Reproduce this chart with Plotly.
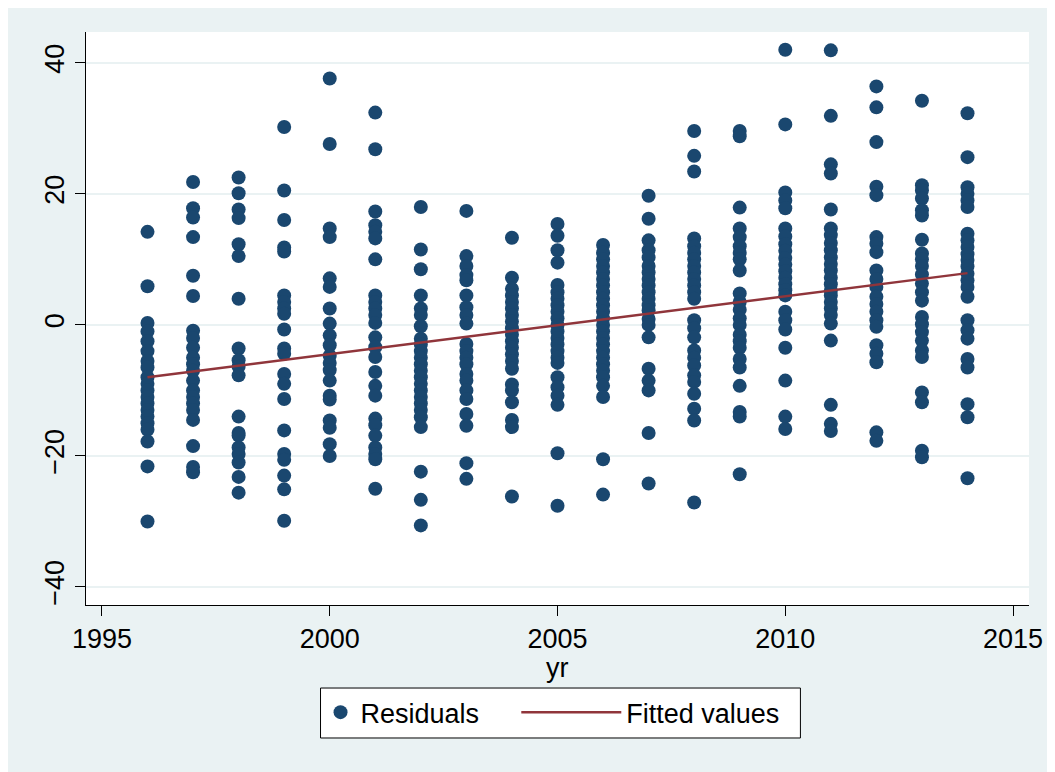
import plotly.graph_objects as go

years = list(range(1996, 2015))

res_1996 = [14.2, 5.9, 0.3, -1.0, -2.5, -4.0, -5.5, -6.5, -8.0, -9.0, -10.0, -11.0, -12.0, -13.0, -14.0, -15.0, -16.0, -17.8, -21.6, -30.0]
res_1997 = [21.8, 17.8, 16.4, 13.4, 7.5, 4.4, -0.9, -2.0, -3.5, -5.0, -6.0, -7.0, -8.5, -10.0, -11.0, -12.0, -13.0, -14.5, -18.5, -21.7, -22.5]
res_1998 = [22.5, 20.1, 17.6, 16.3, 12.3, 10.5, 4.0, -3.6, -5.4, -6.4, -7.7, -14.0, -16.5, -16.9, -18.7, -19.7, -21.0, -23.2, -25.6]
res_1999 = [30.2, 20.5, 16.0, 11.8, 11.2, 4.5, 3.5, 2.5, 1.7, -0.7, -3.6, -4.4, -7.5, -9.0, -11.3, -16.1, -19.7, -20.6, -23.0, -25.1, -29.9]
res_2000 = [37.6, 27.6, 14.7, 13.4, 7.1, 5.8, 2.5, 0.2, -1.6, -3.1, -4.7, -5.8, -6.9, -8.5, -10.8, -11.4, -14.6, -15.7, -18.2, -20.0]
res_2001 = [32.4, 26.8, 17.3, 15.2, 14.2, 13.2, 10.0, 4.5, 3.5, 2.5, 1.5, 0.3, -1.9, -3.4, -4.9, -7.2, -9.3, -10.8, -14.3, -15.3, -16.9, -18.7, -19.7, -20.5, -25.0]
res_2002 = [18.0, 11.5, 8.5, 4.5, 2.5, 1.5, -0.2, -2.1, -3.0, -4.0, -5.0, -6.0, -7.0, -8.0, -9.0, -10.0, -11.0, -12.0, -13.0, -14.1, -15.6, -22.4, -26.7, -30.6]
res_2003 = [17.4, 10.5, 9.0, 7.6, 6.8, 4.5, 2.7, 1.5, 0.2, -2.9, -4.0, -5.0, -6.0, -7.5, -8.5, -10.0, -11.3, -13.6, -15.4, -21.1, -23.5]
res_2004 = [13.3, 7.2, 5.5, 4.5, 3.5, 2.5, 1.5, 0.5, -0.5, -1.5, -2.5, -3.5, -4.5, -5.5, -6.7, -9.1, -10.0, -11.8, -14.5, -15.6, -26.2]
res_2005 = [15.4, 13.6, 11.4, 9.5, 6.1, 5.0, 4.0, 3.0, 2.0, 1.0, 0.0, -1.0, -2.0, -3.0, -4.0, -5.0, -5.8, -8.0, -9.5, -10.8, -12.2, -19.6, -27.6]
res_2006 = [12.2, 11.0, 10.0, 9.0, 8.0, 7.0, 6.0, 5.0, 4.0, 3.0, 2.0, 1.0, 0.0, -1.0, -2.0, -3.0, -4.0, -5.0, -6.0, -7.0, -8.0, -9.3, -11.0, -20.5, -25.9]
res_2007 = [19.7, 16.2, 12.9, 11.4, 10.3, 9.0, 8.0, 7.0, 6.0, 5.0, 4.0, 3.0, 2.2, 0.9, 0.0, -1.9, -6.7, -8.5, -10.0, -16.5, -24.2]
res_2008 = [29.6, 25.8, 23.4, 13.2, 12.0, 11.0, 10.0, 9.0, 8.0, 7.0, 6.0, 5.0, 4.0, 0.7, -0.5, -1.9, -3.9, -5.0, -6.2, -7.7, -8.7, -10.5, -12.8, -14.6, -27.1]
res_2009 = [29.6, 28.8, 17.9, 14.7, 13.4, 12.0, 11.0, 10.0, 8.3, 4.8, 3.5, 2.3, 1.0, 0.0, -1.5, -2.5, -3.5, -5.2, -6.5, -9.3, -13.3, -14.0, -22.8]
res_2010 = [42.0, 30.6, 20.2, 19.0, 17.8, 14.7, 13.5, 12.3, 11.3, 10.2, 9.2, 8.2, 7.2, 6.2, 5.3, 4.5, 2.0, 0.7, -0.7, -3.5, -8.5, -14.0, -15.9]
res_2011 = [41.9, 31.9, 24.5, 23.1, 17.6, 14.7, 13.7, 12.5, 11.4, 10.3, 9.3, 8.3, 7.2, 6.2, 5.2, 4.5, 3.5, 2.5, 1.5, 0.2, -2.4, -12.2, -15.1, -16.2]
res_2012 = [36.4, 33.2, 27.9, 21.1, 19.8, 13.4, 12.4, 11.1, 8.3, 7.0, 5.8, 4.3, 3.2, 2.0, 0.7, -0.3, -3.1, -4.4, -5.7, -16.4, -17.7]
res_2013 = [34.2, 21.3, 20.5, 19.3, 17.5, 16.7, 13.0, 10.9, 10.0, 9.0, 7.7, 6.3, 5.0, 3.7, 1.2, 0.1, -1.1, -2.4, -3.9, -4.9, -10.3, -11.8, -19.2, -20.2]
res_2014 = [32.3, 25.6, 21.0, 20.0, 19.0, 18.0, 13.9, 12.9, 11.9, 10.8, 9.9, 8.9, 7.8, 6.8, 5.8, 4.3, 0.7, -0.8, -2.1, -5.2, -6.5, -12.1, -14.1, -23.4]

residuals_by_year = [res_1996, res_1997, res_1998, res_1999, res_2000, res_2001, res_2002,
                     res_2003, res_2004, res_2005, res_2006, res_2007, res_2008, res_2009,
                     res_2010, res_2011, res_2012, res_2013, res_2014]

fit_x = [1996, 2014]
fit_y = [-8.0, 7.9]

x_ticks = [1995, 2000, 2005, 2010, 2015]
y_ticks = [-40, -20, 0, 20, 40]

xs, ys = [], []
for yr, vals in zip(years, residuals_by_year):
    for v in vals:
        xs.append(yr)
        ys.append(v)

NAVY = "#1A476F"
MAROON = "#90353B"
BG = "#EAF2F3"
FONT = "Liberation Sans, Arial, sans-serif"
FS = 27

fig = go.Figure()
fig.add_trace(go.Scatter(
    x=xs, y=ys, mode="markers", name="Residuals",
    marker=dict(color=NAVY, size=14, line=dict(width=0)),
    legend="legend",
))
fig.add_trace(go.Scatter(
    x=fit_x, y=fit_y, mode="lines", name="Fitted values",
    line=dict(color=MAROON, width=2.5),
    legend="legend2",
))

# legend frame (white box with black border)
fig.add_shape(type="rect", xref="paper", yref="paper",
              x0=0.2487, x1=0.7576, y0=-0.2321, y1=-0.1449,
              fillcolor="white", line=dict(color="black", width=1), layer="above")

fig.add_annotation(text="yr", xref="paper", yref="paper", x=0.5, y=-0.11,
                   xanchor="center", yanchor="middle", showarrow=False,
                   font=dict(size=FS, family=FONT, color="black"))

fig.update_layout(
    width=1047, height=764,
    paper_bgcolor=BG, plot_bgcolor="white",
    margin=dict(l=78, r=20, t=24, b=167),
    font=dict(family=FONT, size=FS, color="black"),
    showlegend=True,
    legend=dict(
        orientation="h", x=0.2487, xanchor="left", y=-0.145, yanchor="top",
        bgcolor="rgba(0,0,0,0)", borderwidth=0,
        font=dict(size=FS, family=FONT),
    ),
    legend2=dict(
        orientation="h", x=0.4563, xanchor="left", y=-0.145, yanchor="top",
        bgcolor="rgba(0,0,0,0)", borderwidth=0, itemwidth=100,
        font=dict(size=FS, family=FONT),
    ),
    xaxis=dict(
        range=[1994.65, 2015.35], tickvals=x_ticks, ticks="outside", ticklen=10,
        tickcolor="black", showline=True, linecolor="black", linewidth=1,
        showgrid=False, zeroline=False,
        tickfont=dict(size=FS),
    ),
    yaxis=dict(
        range=[-42.75, 44.7], tickvals=y_ticks, ticks="outside", ticklen=10,
        tickcolor="black", showline=True, linecolor="black", linewidth=1,
        showgrid=True, gridcolor=BG, gridwidth=2, zeroline=False,
        tickangle=-90, tickfont=dict(size=FS),
    ),
)

fig.write_html("out.html")
